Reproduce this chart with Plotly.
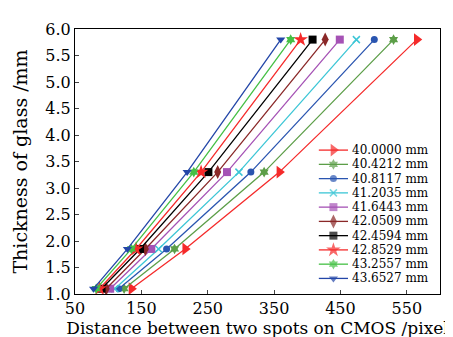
import plotly.graph_objects as go

thickness = [1.1, 1.85, 3.3, 5.8]
labels = ["40.0000 mm", "40.4212 mm", "40.8117 mm", "41.2035 mm", "41.6443 mm",
          "42.0509 mm", "42.4594 mm", "42.8529 mm", "43.2557 mm", "43.6527 mm"]
d_40_0000 = [135, 216, 358, 565]
d_40_4212 = [124, 200, 335, 530]
d_40_8117 = [116, 188, 315, 501]
d_41_2035 = [110, 176, 297, 474]
d_41_6443 = [103, 165, 279, 449]
d_42_0509 = [97, 156, 265, 427]
d_42_4594 = [90, 148, 251, 408]
d_42_8529 = [87, 142, 240, 390]
d_43_2557 = [82, 135, 229, 375]
d_43_6527 = [78, 129, 219, 360]
series = [d_40_0000, d_40_4212, d_40_8117, d_41_2035, d_41_6443,
          d_42_0509, d_42_4594, d_42_8529, d_43_2557, d_43_6527]

colors = ["#f52a2a", "#5c9e48", "#2a55b0", "#3cc6d6", "#a552b5",
          "#8a2828", "#000000", "#f52a2a", "#45c045", "#2346a8"]
symbols = ["triangle-right", "hexagram", "circle", "x-thin-open", "square",
           "diamond-tall", "square", "star", "hexagram", "triangle-down"]
sizes = [11, 8, 7, 7, 8, 10, 8, 11, 8, 8]

font = "DejaVu Serif, Liberation Serif, serif"

fig = go.Figure()
for name, xs, c, s, sz in zip(labels, series, colors, symbols, sizes):
    mline = dict(color=c, width=1.5 if "open" in s else 0)
    fig.add_trace(go.Scatter(
        x=xs, y=thickness, name=name, mode="lines+markers", showlegend=False,
        line=dict(color=c, width=1.3),
        marker=dict(symbol=s, color=c, size=sz, line=mline),
    ))

# compact legend drawn on an overlay axis in plot-fraction coordinates
leg_x0, leg_x1, leg_xt = 0.668, 0.748, 0.753
leg_top, leg_step = 0.543, 0.0538
annotations = []
for i, (name, c, s, sz) in enumerate(zip(labels, colors, symbols, sizes)):
    yy = leg_top - i * leg_step
    mline = dict(color=c, width=1.5 if "open" in s else 0)
    fig.add_trace(go.Scatter(
        x=[leg_x0, (leg_x0 + leg_x1) / 2, leg_x1], y=[yy, yy, yy],
        xaxis="x2", yaxis="y2", mode="lines+markers", showlegend=False,
        hoverinfo="skip", line=dict(color=c, width=1.3),
        marker=dict(symbol=s, color=c, size=[0, sz, 0], line=mline),
    ))
    annotations.append(dict(x=leg_xt, y=yy, xref="x2", yref="y2", text=name,
                            showarrow=False, xanchor="left", yanchor="middle",
                            font=dict(family=font, size=12, color="black")))

fig.update_layout(
    width=453, height=337,
    margin=dict(l=66, r=21, t=13, b=51),
    paper_bgcolor="white", plot_bgcolor="white",
    font=dict(family=font, size=16, color="black"),
    showlegend=False,
    annotations=annotations,
    xaxis=dict(range=[50, 600], tickvals=[50, 150, 250, 350, 450, 550],
               ticks="inside", ticklen=4, showline=True, linecolor="black", linewidth=1,
               mirror=True, showgrid=False, zeroline=False,
               title=dict(text="Distance between two spots on CMOS /pixel", standoff=0,
                          font=dict(size=17))),
    yaxis=dict(range=[1.0, 6.0], tickvals=[1.0, 1.5, 2.0, 2.5, 3.0, 3.5, 4.0, 4.5, 5.0, 5.5, 6.0],
               ticktext=["1.0", "1.5", "2.0", "2.5", "3.0", "3.5", "4.0", "4.5", "5.0", "5.5", "6.0"],
               ticks="inside", ticklen=4, showline=True, linecolor="black", linewidth=1,
               mirror=True, showgrid=False, zeroline=False,
               title=dict(text="Thickness of glass /mm", standoff=12, font=dict(size=19))),
    xaxis2=dict(range=[0, 1], overlaying="x", visible=False, fixedrange=True),
    yaxis2=dict(range=[0, 1], overlaying="y", visible=False, fixedrange=True),
)
fig.write_html("out.html")
